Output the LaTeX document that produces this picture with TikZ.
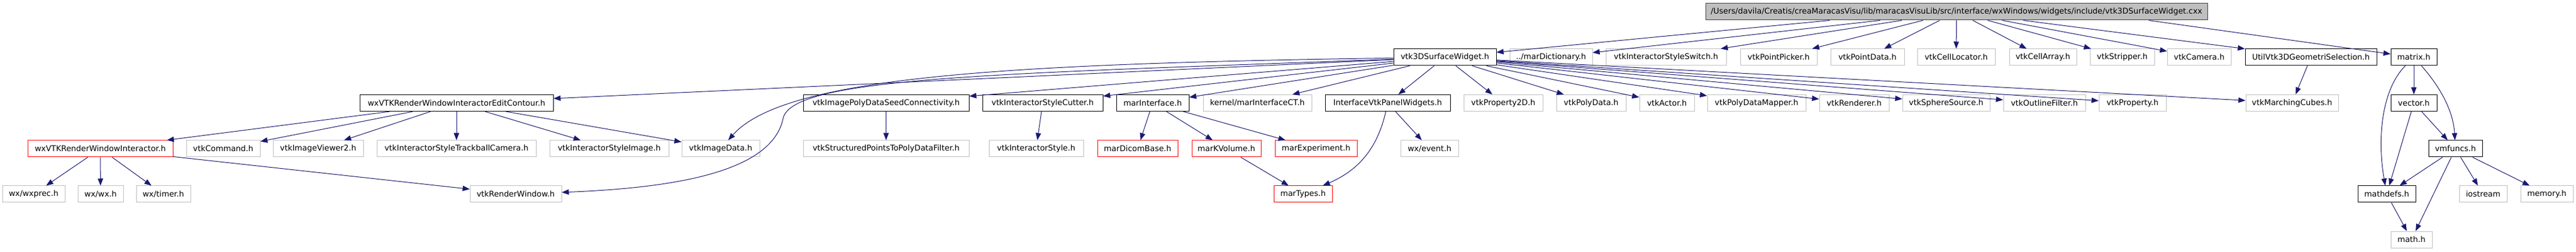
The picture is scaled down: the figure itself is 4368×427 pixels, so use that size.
\documentclass[tikz,border=0pt]{standalone}
\usepackage{fontspec}
\setmainfont{DejaVu Sans}
\usetikzlibrary{arrows.meta}
\definecolor{edgeblue}{HTML}{191970}
\definecolor{undocgray}{HTML}{BFBFBF}
\definecolor{truncred}{HTML}{FF0000}
\definecolor{rootline}{HTML}{404040}

\begin{document}
\begin{tikzpicture}[x=1pt, y=-1pt,
    hdr/.style={draw=black, line width=1pt, minimum height=28pt, inner sep=0pt,
                font=\fontsize{13.33}{16}\selectfont},
    undoc/.style={hdr, draw=undocgray},
    trunc/.style={hdr, draw=truncred},
    rootfile/.style={hdr, fill=undocgray, draw=rootline},
    inc/.style={-{Triangle[length=12pt,width=9pt]}, edgeblue, line width=1pt}]
            \useasboundingbox (0,0) rectangle (4368,427);

            % row 0
            \node[rootfile, minimum width=851pt] (root) at (3317.5,20) {/Users/davila/Creatis/creaMaracasVisu/lib/maracasVisuLib/src/interface/wxWindows/widgets/include/vtk3DSurfaceWidget.cxx};

            % row 1
            \node[hdr, minimum width=174pt] (surfwidget) at (2450,97) {vtk3DSurfaceWidget.h};
            \node[undoc, minimum width=140pt] (mardict) at (2630,97) {../marDictionary.h};
            \node[undoc, minimum width=204pt] (styleswitch) at (2825,97) {vtkInteractorStyleSwitch.h};
            \node[undoc, minimum width=130pt] (pointpicker) at (3016,97) {vtkPointPicker.h};
            \node[undoc, minimum width=125pt] (pointdata) at (3166.5,97) {vtkPointData.h};
            \node[undoc, minimum width=132pt] (celllocator) at (3317,97) {vtkCellLocator.h};
            \node[undoc, minimum width=114pt] (cellarray) at (3464,97) {vtkCellArray.h};
            \node[undoc, minimum width=109pt] (stripper) at (3598.5,97) {vtkStripper.h};
            \node[undoc, minimum width=108pt] (camera) at (3729,97) {vtkCamera.h};
            \node[hdr, minimum width=223pt] (geomsel) at (3918.5,97) {UtilVtk3DGeometriSelection.h};
            \node[hdr, minimum width=78pt] (matrix) at (4093,97) {matrix.h};

            % row 2
            \node[hdr, minimum width=328pt] (editcontour) at (774,174.5) {wxVTKRenderWindowInteractorEditContour.h};
            \node[hdr, minimum width=281pt] (seedconn) at (1502.5,174.5) {vtkImagePolyDataSeedConnectivity.h};
            \node[hdr, minimum width=204pt] (stylecutter) at (1768,174.5) {vtkInteractorStyleCutter.h};
            \node[hdr, minimum width=123pt] (marinterface) at (1954.5,174.5) {marInterface.h};
            \node[undoc, minimum width=184pt] (marinterfacect) at (2132,174.5) {kernel/marInterfaceCT.h};
            \node[hdr, minimum width=212pt] (panelwidgets) at (2353,174.5) {InterfaceVtkPanelWidgets.h};
            \node[undoc, minimum width=134pt] (property2d) at (2549,174.5) {vtkProperty2D.h};
            \node[undoc, minimum width=118pt] (polydata) at (2698,174.5) {vtkPolyData.h};
            \node[undoc, minimum width=93pt] (actor) at (2826.5,174.5) {vtkActor.h};
            \node[undoc, minimum width=167pt] (polymapper) at (2978.5,174.5) {vtkPolyDataMapper.h};
            \node[undoc, minimum width=118pt] (renderer) at (3144,174.5) {vtkRenderer.h};
            \node[undoc, minimum width=148pt] (sphere) at (3300,174.5) {vtkSphereSource.h};
            \node[undoc, minimum width=139pt] (outline) at (3466.5,174.5) {vtkOutlineFilter.h};
            \node[undoc, minimum width=114pt] (property) at (3616,174.5) {vtkProperty.h};
            \node[undoc, minimum width=157pt] (marching) at (3886.5,174.5) {vtkMarchingCubes.h};
            \node[hdr, minimum width=78pt] (vector) at (4093,174.5) {vector.h};

            % row 3
            \node[trunc, minimum width=246pt] (rwinteractor) at (170,252) {wxVTKRenderWindowInteractor.h};
            \node[undoc, minimum width=125pt] (command) at (378.5,252) {vtkCommand.h};
            \node[undoc, minimum width=153pt] (viewer) at (539.5,252) {vtkImageViewer2.h};
            \node[undoc, minimum width=270pt] (trackball) at (774,252) {vtkInteractorStyleTrackballCamera.h};
            \node[undoc, minimum width=202pt] (styleimage) at (1033,252) {vtkInteractorStyleImage.h};
            \node[undoc, minimum width=132pt] (imagedata) at (1222,252) {vtkImageData.h};
            \node[undoc, minimum width=281pt] (sptopd) at (1502.5,252) {vtkStructuredPointsToPolyDataFilter.h};
            \node[undoc, minimum width=160pt] (style) at (1757,252) {vtkInteractorStyle.h};
            \node[trunc, minimum width=136pt] (dicombase) at (1929,252) {marDicomBase.h};
            \node[trunc, minimum width=117pt] (kvolume) at (2079.5,252) {marKVolume.h};
            \node[trunc, minimum width=139pt] (experiment) at (2231.5,252) {marExperiment.h};
            \node[undoc, minimum width=98pt] (wxevent) at (2424,252) {wx/event.h};
            \node[hdr, minimum width=91pt] (vmfuncs) at (4163.5,252) {vmfuncs.h};

            % row 4
            \node[undoc, minimum width=106pt] (wxprec) at (57,329) {wx/wxprec.h};
            \node[undoc, minimum width=77pt] (wxwx) at (170.5,329) {wx/wx.h};
            \node[undoc, minimum width=92pt] (wxtimer) at (277,329) {wx/timer.h};
            \node[undoc, minimum width=155pt] (renderwindow) at (874.5,329) {vtkRenderWindow.h};
            \node[trunc, minimum width=99pt] (martypes) at (2209.5,329) {marTypes.h};
            \node[hdr, minimum width=98pt] (mathdefs) at (4047,329) {mathdefs.h};
            \node[undoc, minimum width=81pt] (iostream) at (4210.5,329) {iostream};
            \node[undoc, minimum width=89pt] (memory) at (4318.5,329) {memory.h};

            % row 5
            \node[undoc, minimum width=70pt] (math) at (4089,406) {math.h};

            % includes of the .cxx
            \draw[inc] ([xshift=-215pt]root.south) -- (surfwidget);
            \draw[inc] (root) -- (mardict);
            \draw[inc] (root) -- (styleswitch);
            \draw[inc] (root) -- (pointpicker);
            \draw[inc] (root) -- (pointdata);
            \draw[inc] (root) -- (celllocator);
            \draw[inc] (root) -- (cellarray);
            \draw[inc] (root) -- (stripper);
            \draw[inc] (root) -- (camera);
            \draw[inc] (root) -- (geomsel);
            \draw[inc] ([xshift=326pt]root.south) -- (matrix);

            % includes of vtk3DSurfaceWidget.h
            \draw[inc] (surfwidget) -- (editcontour);
            \draw[inc] (surfwidget) .. controls (1700,108) and (1330,130) .. (imagedata);
            \draw[inc] (surfwidget) .. controls (1700,125) and (1345,130) .. (1328,200)
                                    .. controls (1310,290) and (1150,318) .. (renderwindow);
            \draw[inc] (surfwidget) -- (seedconn);
            \draw[inc] (surfwidget) -- (stylecutter);
            \draw[inc] (surfwidget) -- (marinterface);
            \draw[inc] (surfwidget) -- (marinterfacect);
            \draw[inc] (surfwidget) -- (panelwidgets);
            \draw[inc] (surfwidget) -- (property2d);
            \draw[inc] (surfwidget) -- (polydata);
            \draw[inc] (surfwidget) -- (actor);
            \draw[inc] (surfwidget) -- (polymapper);
            \draw[inc] (surfwidget) -- (renderer);
            \draw[inc] (surfwidget) -- (sphere);
            \draw[inc] (surfwidget) -- (outline);
            \draw[inc] (surfwidget) -- (property);
            \draw[inc] (surfwidget) -- (marching);

            % wx side
            \draw[inc] (editcontour) -- (rwinteractor);
            \draw[inc] (editcontour) -- (command);
            \draw[inc] (editcontour) -- (viewer);
            \draw[inc] (editcontour) -- (trackball);
            \draw[inc] (editcontour) -- (styleimage);
            \draw[inc] (editcontour) -- (imagedata);
            \draw[inc] (rwinteractor) -- (wxprec);
            \draw[inc] (rwinteractor) -- (wxwx);
            \draw[inc] (rwinteractor) -- (wxtimer);
            \draw[inc] (rwinteractor) -- (renderwindow);

            % middle
            \draw[inc] (seedconn) -- (sptopd);
            \draw[inc] (stylecutter) -- (style);
            \draw[inc] (marinterface) -- (dicombase);
            \draw[inc] (marinterface) -- (kvolume);
            \draw[inc] (marinterface) -- (experiment);
            \draw[inc] (kvolume) -- (martypes);
            \draw[inc] (panelwidgets) .. controls (2335,255) and (2300,290) .. (martypes);
            \draw[inc] (panelwidgets) -- (wxevent);
            \draw[inc] (geomsel) -- (marching);

            % matrix headers
            \draw[inc] (matrix) -- (vector);
            \draw[inc] (matrix) .. controls (4040,150) and (4030,230) .. (mathdefs);
            \draw[inc] (matrix) .. controls (4140,150) and (4160,190) .. (vmfuncs);
            \draw[inc] (vector) -- (mathdefs);
            \draw[inc] (vector) -- (vmfuncs);
            \draw[inc] (vmfuncs) -- (mathdefs);
            \draw[inc] (vmfuncs) -- (math);
            \draw[inc] (vmfuncs) -- (iostream);
            \draw[inc] (vmfuncs) -- (memory);
            \draw[inc] (mathdefs) -- (math);
        \end{tikzpicture}
\end{document}
